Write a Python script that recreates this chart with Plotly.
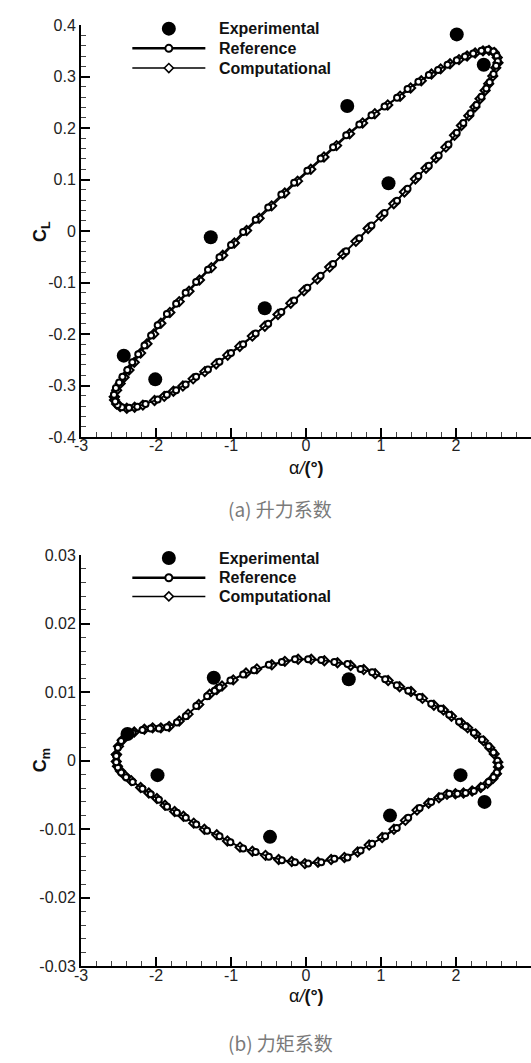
import plotly.graph_objects as go

# ---------------- lift coefficient C_L ----------------
cl_exp_alpha = [-2.43, -2.01, -1.27, -0.55, 0.55, 1.10, 2.01, 2.37]
cl_exp_value = [-0.242, -0.288, -0.012, -0.150, 0.243, 0.093, 0.382, 0.323]

cl_ref_alpha = [
    -2.560, -2.535, -2.491, -2.447, -2.382, -2.316, -2.237, -2.154, -2.066, -1.978,
    -1.855, -1.732, -1.605, -1.465, -1.307, -1.154, -1.000, -0.838, -0.671, -0.504,
    -0.329, -0.158, 0.018, 0.195, 0.361, 0.536, 0.711, 0.873, 1.047, 1.214,
    1.354, 1.498, 1.638, 1.761, 1.887, 2.010, 2.119, 2.229, 2.339, 2.425,
    2.500, 2.544, 2.557,
    2.535, 2.500, 2.448, 2.404, 2.339, 2.273, 2.194, 2.098, 2.010, 1.900,
    1.769, 1.638, 1.498, 1.354, 1.214, 1.047, 0.873, 0.711, 0.536, 0.361,
    0.195, 0.018, -0.158, -0.329, -0.504, -0.671, -0.838, -1.000, -1.154, -1.307,
    -1.465, -1.605, -1.732, -1.855, -1.978, -2.140, -2.250, -2.360, -2.456, -2.513,
    -2.544, -2.560,
]
cl_ref_value = [
    -0.318, -0.305, -0.294, -0.283, -0.270, -0.255, -0.239, -0.222, -0.203, -0.183,
    -0.161, -0.141, -0.120, -0.099, -0.075, -0.051, -0.027, -0.002, 0.022, 0.046,
    0.071, 0.094, 0.117, 0.141, 0.163, 0.186, 0.207, 0.225, 0.242, 0.259,
    0.276, 0.290, 0.303, 0.313, 0.323, 0.332, 0.339, 0.345, 0.350, 0.352,
    0.349, 0.340, 0.330,
    0.321, 0.305, 0.289, 0.277, 0.261, 0.245, 0.229, 0.210, 0.191, 0.168,
    0.147, 0.127, 0.107, 0.082, 0.059, 0.035, 0.011, -0.014, -0.039, -0.064,
    -0.087, -0.110, -0.135, -0.157, -0.180, -0.199, -0.220, -0.237, -0.254, -0.269,
    -0.283, -0.298, -0.309, -0.318, -0.327, -0.336, -0.341, -0.343, -0.342, -0.338,
    -0.331, -0.318,
]

cl_cmp_alpha = [
    -2.555, -2.525, -2.478, -2.425, -2.360, -2.290, -2.205, -2.120, -2.030, -1.935,
    -1.815, -1.690, -1.560, -1.420, -1.262, -1.110, -0.955, -0.792, -0.625, -0.458,
    -0.283, -0.112, 0.064, 0.240, 0.408, 0.582, 0.755, 0.918, 1.090, 1.255,
    1.395, 1.537, 1.673, 1.795, 1.920, 2.040, 2.148, 2.255, 2.360, 2.440,
    2.510, 2.550, 2.560,
    2.530, 2.490, 2.436, 2.388, 2.320, 2.252, 2.170, 2.072, 1.980, 1.865,
    1.732, 1.600, 1.458, 1.312, 1.170, 1.002, 0.828, 0.665, 0.490, 0.315,
    0.150, -0.028, -0.203, -0.374, -0.549, -0.716, -0.883, -1.044, -1.198, -1.350,
    -1.505, -1.642, -1.768, -1.890, -2.020, -2.175, -2.285, -2.390, -2.478, -2.525,
    -2.553, -2.555,
]
cl_cmp_value = [
    -0.322, -0.309, -0.296, -0.284, -0.270, -0.255, -0.237, -0.219, -0.200, -0.179,
    -0.158, -0.137, -0.117, -0.095, -0.071, -0.047, -0.023, 0.001, 0.025, 0.049,
    0.074, 0.097, 0.120, 0.144, 0.166, 0.189, 0.210, 0.228, 0.245, 0.262,
    0.278, 0.292, 0.305, 0.315, 0.325, 0.333, 0.340, 0.346, 0.350, 0.351,
    0.347, 0.337, 0.327,
    0.317, 0.301, 0.286, 0.273, 0.257, 0.241, 0.224, 0.205, 0.186, 0.163,
    0.142, 0.122, 0.101, 0.076, 0.053, 0.029, 0.005, -0.020, -0.045, -0.070,
    -0.093, -0.116, -0.140, -0.162, -0.185, -0.204, -0.224, -0.241, -0.258, -0.273,
    -0.287, -0.301, -0.311, -0.321, -0.329, -0.338, -0.342, -0.344, -0.341, -0.336,
    -0.328, -0.322,
]

# ---------------- moment coefficient C_m ----------------
cm_exp_alpha = [-2.38, -1.98, -1.23, -0.48, 0.57, 1.12, 2.06, 2.38]
cm_exp_value = [0.0039, -0.0021, 0.0121, -0.0111, 0.0119, -0.0080, -0.0021, -0.0060]

cm_ref_alpha = [
    -2.530, -2.509, -2.465, -2.399, -2.312, -2.181, -2.071, -1.962, -1.853, -1.721,
    -1.603, -1.463, -1.319, -1.218, -1.153, -1.008, -0.838, -0.693, -0.496, -0.322,
    -0.147, 0.028, 0.203, 0.378, 0.553, 0.728, 0.882, 1.056, 1.210, 1.363,
    1.516, 1.669, 1.800, 1.909, 2.041, 2.128, 2.238, 2.347, 2.434, 2.500,
    2.553, 2.566,
    2.544, 2.500, 2.434, 2.347, 2.238, 2.128, 2.019, 1.909, 1.800, 1.669,
    1.516, 1.363, 1.210, 1.056, 0.882, 0.728, 0.553, 0.378, 0.203, 0.028,
    -0.147, -0.322, -0.496, -0.672, -0.838, -1.008, -1.153, -1.319, -1.463, -1.603,
    -1.721, -1.853, -1.962, -2.071, -2.181, -2.312, -2.399, -2.465, -2.509, -2.530,
    -2.530,
]
cm_ref_value = [
    0.0007, 0.0019, 0.0029, 0.0036, 0.0041, 0.0045, 0.0047, 0.0047, 0.0049, 0.0056,
    0.0065, 0.0080, 0.0094, 0.0102, 0.0107, 0.0117, 0.0126, 0.0132, 0.0140, 0.0144,
    0.0148, 0.0148, 0.0147, 0.0144, 0.0141, 0.0134, 0.0129, 0.0119, 0.0110, 0.0102,
    0.0093, 0.0083, 0.0076, 0.0067, 0.0057, 0.0050, 0.0041, 0.0031, 0.0021, 0.0012,
    0.0000, -0.0007,
    -0.0017, -0.0024, -0.0031, -0.0038, -0.0044, -0.0047, -0.0048, -0.0048, -0.0052, -0.0060,
    -0.0069, -0.0083, -0.0098, -0.0110, -0.0121, -0.0131, -0.0141, -0.0143, -0.0148, -0.0150,
    -0.0148, -0.0145, -0.0140, -0.0133, -0.0128, -0.0119, -0.0110, -0.0102, -0.0093, -0.0083,
    -0.0076, -0.0067, -0.0057, -0.0049, -0.0041, -0.0031, -0.0024, -0.0017, -0.0010, -0.0002,
    0.0007,
]

cm_cmp_alpha = [
    -2.528, -2.500, -2.452, -2.380, -2.290, -2.155, -2.045, -1.935, -1.825, -1.690,
    -1.572, -1.430, -1.285, -1.190, -1.120, -0.970, -0.800, -0.655, -0.456, -0.282,
    -0.105, 0.070, 0.245, 0.420, 0.595, 0.770, 0.922, 1.095, 1.248, 1.400,
    1.553, 1.705, 1.832, 1.940, 2.070, 2.155, 2.262, 2.368, 2.450, 2.510,
    2.558, 2.566,
    2.540, 2.492, 2.420, 2.330, 2.215, 2.100, 1.992, 1.880, 1.772, 1.635,
    1.480, 1.325, 1.172, 1.015, 0.842, 0.688, 0.512, 0.335, 0.160, -0.015,
    -0.190, -0.365, -0.540, -0.715, -0.880, -1.048, -1.190, -1.355, -1.497, -1.634,
    -1.752, -1.880, -1.988, -2.096, -2.205, -2.330, -2.412, -2.474, -2.514, -2.530,
    -2.528,
]
cm_cmp_value = [
    0.0009, 0.0021, 0.0030, 0.0037, 0.0042, 0.0046, 0.0048, 0.0048, 0.0050, 0.0058,
    0.0068, 0.0082, 0.0097, 0.0104, 0.0109, 0.0118, 0.0128, 0.0134, 0.0140, 0.0145,
    0.0148, 0.0148, 0.0146, 0.0143, 0.0139, 0.0133, 0.0127, 0.0117, 0.0108, 0.0101,
    0.0091, 0.0081, 0.0074, 0.0065, 0.0055, 0.0048, 0.0039, 0.0029, 0.0019, 0.0010,
    -0.0002, -0.0009,
    -0.0019, -0.0026, -0.0033, -0.0039, -0.0044, -0.0047, -0.0048, -0.0049, -0.0054, -0.0062,
    -0.0072, -0.0087, -0.0100, -0.0112, -0.0123, -0.0133, -0.0141, -0.0144, -0.0148, -0.0150,
    -0.0147, -0.0144, -0.0138, -0.0132, -0.0126, -0.0117, -0.0108, -0.0100, -0.0091, -0.0081,
    -0.0074, -0.0065, -0.0055, -0.0047, -0.0039, -0.0029, -0.0022, -0.0015, -0.0008, -0.0001,
    0.0009,
]

# ---------------- axis ticks ----------------
alpha_ticks = [-3, -2, -1, 0, 1, 2, 3]
alpha_ticktext = ["-3", "-2", "-1", "0", "1", "2", "3"]
cl_ticks = [0.4, 0.3, 0.2, 0.1, 0.0, -0.1, -0.2, -0.3, -0.4]
cl_ticktext = ["0.4", "0.3", "0.2", "0.1", "0", "-0.1", "-0.2", "-0.3", "-0.4"]
cm_ticks = [0.03, 0.02, 0.01, 0.0, -0.01, -0.02, -0.03]
cm_ticktext = ["0.03", "0.02", "0.01", "0", "-0.01", "-0.02", "-0.03"]

legend_names = ["Experimental", "Reference", "Computational"]

W, H = 531, 1063
LEFT = 75
FONT = "Liberation Sans, Arial, sans-serif"


def px_x(p):
    return p / W


def px_y(p):
    return 1 - p / H


fig = go.Figure()


def add_panel(xa, ya, ea, ev, ra, rv, ca, cv):
    fig.add_trace(go.Scatter(
        x=ca, y=cv, mode="lines+markers", xaxis=xa, yaxis=ya,
        line=dict(color="black", width=1.4),
        marker=dict(symbol="diamond", size=7, color="white",
                    line=dict(color="black", width=2)),
        showlegend=False, hoverinfo="skip"))
    fig.add_trace(go.Scatter(
        x=ra, y=rv, mode="lines+markers", xaxis=xa, yaxis=ya,
        line=dict(color="black", width=1.7),
        marker=dict(symbol="circle", size=6, color="white",
                    line=dict(color="black", width=2)),
        showlegend=False, hoverinfo="skip"))
    fig.add_trace(go.Scatter(
        x=ea, y=ev, mode="markers", xaxis=xa, yaxis=ya,
        marker=dict(symbol="circle", size=14, color="black"),
        showlegend=False, hoverinfo="skip"))


add_panel("x", "y", cl_exp_alpha, cl_exp_value, cl_ref_alpha, cl_ref_value,
          cl_cmp_alpha, cl_cmp_value)
add_panel("x2", "y2", cm_exp_alpha, cm_exp_value, cm_ref_alpha, cm_ref_value,
          cm_cmp_alpha, cm_cmp_value)

axis_common = dict(
    showline=True, linecolor="black", linewidth=2, mirror=False,
    showgrid=False, zeroline=False, ticks="inside", ticklen=9, tickwidth=2,
    tickcolor="black", tickfont=dict(family=FONT, size=16, color="#222"),
)
x_extra = dict(ticklabelstandoff=-7)

xdom = [px_x(LEFT), 1.0]
top_dom = [px_y(436), px_y(17.4)]
bot_dom = [px_y(974), px_y(556)]

minor_x = dict(dtick=0.2, tick0=0, ticks="inside", ticklen=5, tickwidth=1, tickcolor="#444")

fig.update_layout(
    width=W, height=H, margin=dict(l=0, r=0, t=0, b=0),
    paper_bgcolor="white", plot_bgcolor="white", showlegend=False,
    xaxis=dict(axis_common, **x_extra, domain=xdom, anchor="y", range=[-3, 3],
               tickmode="array", tickvals=alpha_ticks, ticktext=alpha_ticktext,
               minor=minor_x),
    yaxis=dict(axis_common, domain=top_dom, anchor="x", range=[-0.4, 0.4],
               tickmode="array", tickvals=cl_ticks, ticktext=cl_ticktext,
               minor=dict(dtick=0.02, tick0=0, ticks="inside", ticklen=5,
                          tickwidth=1, tickcolor="#444")),
    xaxis2=dict(axis_common, **x_extra, domain=xdom, anchor="y2", range=[-3, 3],
                tickmode="array", tickvals=alpha_ticks, ticktext=alpha_ticktext,
                minor=minor_x),
    yaxis2=dict(axis_common, domain=bot_dom, anchor="x2", range=[-0.03, 0.03],
                tickmode="array", tickvals=cm_ticks, ticktext=cm_ticktext,
                minor=dict(dtick=0.002, tick0=0, ticks="inside", ticklen=5,
                           tickwidth=1, tickcolor="#444")),
)

shapes = []
annotations = []


def legend_block(y_exp, y_ref, y_cmp):
    mx = px_x(164)
    # experimental key
    shapes.append(dict(type="circle", xref="paper", yref="paper",
                       xsizemode="pixel", ysizemode="pixel",
                       xanchor=mx, yanchor=px_y(y_exp),
                       x0=-7, x1=7, y0=-7, y1=7,
                       fillcolor="black", line=dict(color="black", width=0)))
    # reference key
    shapes.append(dict(type="line", xref="paper", yref="paper",
                       x0=px_x(127), x1=px_x(201), y0=px_y(y_ref), y1=px_y(y_ref),
                       line=dict(color="black", width=2.5)))
    shapes.append(dict(type="circle", xref="paper", yref="paper",
                       xsizemode="pixel", ysizemode="pixel",
                       xanchor=mx, yanchor=px_y(y_ref),
                       x0=-3.5, x1=3.5, y0=-3.5, y1=3.5,
                       fillcolor="white", line=dict(color="black", width=2)))
    # computational key
    shapes.append(dict(type="line", xref="paper", yref="paper",
                       x0=px_x(127), x1=px_x(201), y0=px_y(y_cmp), y1=px_y(y_cmp),
                       line=dict(color="black", width=1.6)))
    shapes.append(dict(type="path", xref="paper", yref="paper",
                       xsizemode="pixel", ysizemode="pixel",
                       xanchor=mx, yanchor=px_y(y_cmp),
                       path="M -4.5 0 L 0 4.5 L 4.5 0 L 0 -4.5 Z",
                       fillcolor="white", line=dict(color="black", width=1.6)))
    for name, yy in zip(legend_names, [y_exp, y_ref, y_cmp]):
        annotations.append(dict(text="<b>%s</b>" % name, xref="paper", yref="paper",
                                x=px_x(213), y=px_y(yy), xanchor="left",
                                yanchor="middle", showarrow=False,
                                font=dict(family=FONT, size=16, color="#111")))


legend_block(21, 41, 61)
legend_block(559, 579, 598)

title_font = dict(family=FONT, size=18, color="#111")
caption_font = dict(family="Noto Sans CJK SC", size=19, color="#7a7a7a")


def text_at(text, x, y, font, angle=0):
    return dict(text=text, textangle=angle, x=px_x(x), y=px_y(y),
                xref="paper", yref="paper", xanchor="center", yanchor="middle",
                showarrow=False, font=font)


annotations += [
    text_at("<b>C<sub>L</sub></b>", 35, 227, title_font, -90),
    text_at("<b>C<sub>m</sub></b>", 35, 765, title_font, -90),
    text_at("α<i>/</i><b>(°)</b>", 304, 467, title_font),
    text_at("α<i>/</i><b>(°)</b>", 304, 1004, title_font),
    text_at("(a) 升力系数", 277, 509, caption_font),
    text_at("(b) 力矩系数", 277, 1051, caption_font),
]

fig.update_layout(shapes=shapes, annotations=annotations)
fig.write_html("out.html")
